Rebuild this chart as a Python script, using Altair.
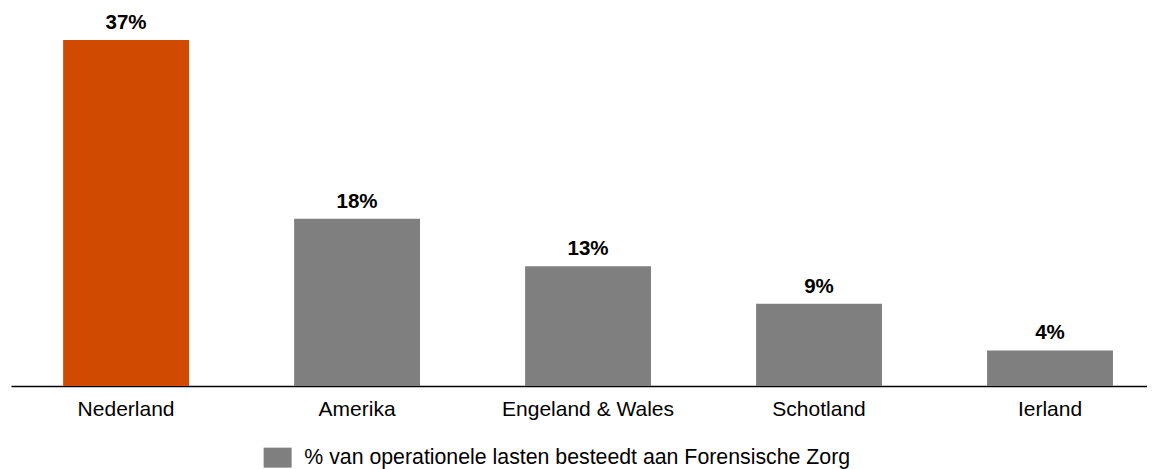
import altair as alt
import pandas as pd

landen = ["Nederland", "Amerika", "Engeland & Wales", "Schotland", "Ierland"]
waarden = [37.0, 17.9, 12.8, 8.8, 3.8]
labels = ["37%", "18%", "13%", "9%", "4%"]
reeks = "% van operationele lasten besteedt aan Forensische Zorg"

df = pd.DataFrame({"land": landen, "waarde": waarden, "label": labels, "reeks": [reeks] * len(landen)})

FONT = "Liberation Sans"

x = alt.X("land:N", sort=landen, title=None,
          scale=alt.Scale(paddingInner=0.455, paddingOuter=0.1865, align=0.605),
          axis=alt.Axis(ticks=False, labelPadding=12, labelFontSize=21, labelFont=FONT,
                        labelColor="#000000", domainColor="#000000", domainWidth=1.6,
                        labelAngle=0, grid=False))
y = alt.Y("waarde:Q", scale=alt.Scale(domain=[0, 40], nice=False), axis=None)

color = alt.condition(
    alt.datum.land == "Nederland",
    alt.value("#D04A02"),
    alt.Color("reeks:N", title=None,
              scale=alt.Scale(domain=[reeks], range=["#7F7F7F"]),
              legend=alt.Legend(orient="none", legendX=256, legendY=435,
                                symbolType="M-1.4,-1L1.4,-1L1.4,1L-1.4,1Z", symbolSize=400,
                                symbolStrokeWidth=0, symbolOpacity=1,
                                labelFontSize=21.3, labelFont=FONT, labelColor="#000000",
                                labelOffset=16, padding=0, labelLimit=800)),
)

bars = alt.Chart(df).mark_bar(stroke=None).encode(x=x, y=y, color=color)
text = alt.Chart(df).mark_text(baseline="alphabetic", dy=-11, fontSize=20.5, font=FONT,
                               fontWeight="bold", color="#000000").encode(
    x=alt.X("land:N", sort=landen), y="waarde:Q", text="label:N")

chart = (bars + text).properties(
    width=1136, height=374,
    autosize=alt.AutoSizeParams(type="none"),
    padding={"left": 3, "top": 4, "right": 0, "bottom": 83},
).configure_view(stroke=None)

chart.save("out.html", embed_options={"renderer": "svg", "actions": False})
